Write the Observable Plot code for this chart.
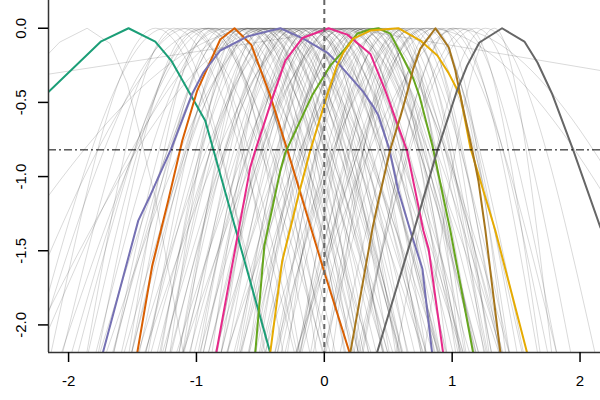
<!DOCTYPE html>
<html><head><meta charset="utf-8">
<script src="https://cdn.jsdelivr.net/npm/d3@7"></script>
<script src="https://cdn.jsdelivr.net/npm/@observablehq/plot@0.6"></script>
<style>body{margin:0;background:#fff}</style>
</head><body><div id="chart"></div>
<script>
const xDomain = [-2.157, 2.16];
const yDomain = [-2.186, 0.187];
const xTicks = [-2, -1, 0, 1, 2];
const xTickLabels = ["-2", "-1", "0", "1", "2"];
const yTicks = [0, -0.5, -1, -1.5, -2];
const yTickLabels = ["0.0", "-0.5", "-1.0", "-1.5", "-2.0"];
const refX = 0;
const cutoffY = -0.82;
const greyPeakY = 0;
const greyFootY = -2.2;

// grey profiles: [x where left side reaches foot, x of peak, x where right side reaches foot]
const greyProfiles = [
  [-2.14,-1.32,-0.42],[-2.29,-1.24,-0.46],[-1.86,-1.18,-0.23],[-2.05,-1.12,0.00],[-2.26,-1.06,-0.21],
  [-1.77,-1.02,-0.32],[-1.85,-0.97,0.05],[-1.93,-0.93,-0.01],[-1.53,-0.91,-0.11],[-1.98,-0.88,0.37],
  [-1.65,-0.85,-0.19],[-1.79,-0.82,0.23],[-1.51,-0.79,0.09],[-2.06,-0.76,0.24],[-1.59,-0.73,0.01],
  [-1.65,-0.71,0.27],[-1.38,-0.68,0.47],[-1.21,-0.66,-0.06],[-1.45,-0.63,0.27],[-1.66,-0.61,0.17],
  [-1.28,-0.60,0.35],[-1.51,-0.58,0.54],[-1.76,-0.56,0.29],[-1.29,-0.54,0.16],[-1.40,-0.52,0.50],
  [-1.51,-0.51,0.41],[-1.11,-0.49,0.31],[-1.57,-0.47,0.78],[-1.25,-0.45,0.21],[-1.40,-0.43,0.62],
  [-1.14,-0.42,0.46],[-1.71,-0.41,0.59],[-1.25,-0.39,0.35],[-1.31,-0.37,0.61],[-1.05,-0.35,0.80],
  [-0.88,-0.33,0.27],[-1.14,-0.32,0.58],[-1.36,-0.31,0.47],[-0.97,-0.29,0.66],[-1.20,-0.27,0.85],
  [-1.46,-0.26,0.59],[-0.99,-0.24,0.46],[-1.10,-0.22,0.80],[-1.21,-0.21,0.71],[-0.81,-0.19,0.61],
  [-1.27,-0.17,1.08],[-0.95,-0.15,0.51],[-1.11,-0.14,0.91],[-0.84,-0.12,0.76],[-1.41,-0.11,0.89],
  [-0.95,-0.09,0.65],[-1.02,-0.08,0.90],[-0.76,-0.06,1.09],[-0.59,-0.04,0.56],[-0.85,-0.03,0.87],
  [-1.06,-0.01,0.77],[-0.67,0.01,0.96],[-0.91,0.02,1.14],[-1.16,0.04,0.89],[-0.69,0.06,0.76],
  [-0.81,0.07,1.09],[-0.91,0.09,1.01],[-0.51,0.11,0.91],[-0.98,0.12,1.37],[-0.66,0.14,0.80],
  [-0.81,0.16,1.21],[-0.55,0.17,1.05],[-1.11,0.19,1.19],[-0.65,0.21,0.95],[-0.71,0.23,1.21],
  [-0.46,0.24,1.39],[-0.29,0.26,0.86],[-0.54,0.28,1.18],[-0.76,0.29,1.07],[-0.37,0.31,1.26],
  [-0.60,0.33,1.45],[-0.86,0.34,1.19],[-0.39,0.36,1.06],[-0.50,0.38,1.40],[-0.59,0.41,1.10],
  [-0.19,0.43,1.03],[-0.66,0.44,1.38],[-0.34,0.46,0.96],[-0.49,0.48,1.27],[-0.21,0.51,1.17],
  [-0.77,0.53,1.28],[-0.31,0.55,1.11],[-0.37,0.57,1.31],[-0.11,0.59,1.45],[0.06,0.61,1.06],
  [-0.19,0.63,1.31],[-0.39,0.66,1.25],[0.00,0.68,1.39],[-0.22,0.71,1.55],[-0.47,0.73,1.37],
  [0.01,0.76,1.29],[-0.09,0.79,1.56],[-0.18,0.82,1.51],[0.23,0.85,1.45],[-0.22,0.88,1.82],
  [0.12,0.92,1.42],[-0.01,0.96,1.75],[0.29,1.01,1.67],[-0.23,1.07,1.82],[0.27,1.13,1.69],
  [0.25,1.19,1.93],[0.56,1.26,2.12],[0.78,1.33,1.78],
  [-3.00,-0.50,0.60],[-2.48,-0.90,0.20],[-2.33,-0.40,0.90],[-2.24,-0.60,0.50],
  [0.30,1.00,3.00],[-0.20,0.80,2.90]
];

// grey profiles with irregular shapes, as vertex lists [x, y]
const greyPolylines = [
  [[-2.16,-0.31],[0.20,0.00],[2.16,-0.285]],
  [[-2.30,-0.30],[-2.07,-0.094],[-1.855,0.00],[-1.675,-0.103],[-1.54,-0.374],[-1.32,-1.15],[-1.10,-2.20]]
];

const colours = ["#1B9E77", "#D95F02", "#7570B3", "#E7298A", "#66A61E", "#E6AB02", "#A6761D", "#666666"];

const profileTeal = [[-2.160,-0.432],[-1.745,-0.088],[-1.531,0],[-1.322,-0.090],[-1.197,-0.218],[-0.931,-0.623],[-0.423,-2.188]];
const profileOrange = [[-1.463,-2.188],[-1.346,-1.601],[-1.221,-1.163],[-1.111,-0.758],[-0.994,-0.420],[-0.814,-0.076],[-0.702,0],[-0.571,-0.112],[-0.423,-0.454],[-0.290,-0.818],[-0.008,-1.621],[0.198,-2.188]];
const profilePurple = [[-1.732,-2.188],[-1.455,-1.297],[-1.362,-1.129],[-1.197,-0.812],[-1.033,-0.441],[-0.947,-0.299],[-0.814,-0.150],[-0.603,-0.056],[-0.344,0],[-0.164,-0.070],[0.023,-0.164],[0.125,-0.252],[0.297,-0.420],[0.383,-0.528],[0.423,-0.589],[0.509,-0.818],[0.579,-1.095],[0.673,-1.365],[0.767,-1.621],[0.843,-2.188]];
const profilePink = [[-0.845,-2.188],[-0.671,-1.365],[-0.579,-0.938],[-0.540,-0.825],[-0.399,-0.454],[-0.305,-0.218],[-0.172,-0.066],[0.034,0],[0.180,-0.043],[0.360,-0.173],[0.477,-0.420],[0.647,-0.825],[0.660,-0.881],[0.775,-1.365],[0.816,-1.489],[0.929,-2.188]];
const profileGreen = [[-0.540,-2.188],[-0.469,-1.466],[-0.344,-0.960],[-0.305,-0.839],[-0.096,-0.454],[0.047,-0.252],[0.164,-0.137],[0.258,-0.036],[0.360,-0.009],[0.423,0],[0.516,-0.036],[0.618,-0.204],[0.696,-0.339],[0.743,-0.454],[0.845,-0.791],[0.986,-1.365],[1.164,-2.188]];
const profileYellow = [[-0.423,-2.188],[-0.329,-1.567],[-0.266,-1.352],[-0.203,-1.129],[-0.110,-0.825],[0.021,-0.454],[0.099,-0.252],[0.149,-0.164],[0.227,-0.070],[0.360,-0.016],[0.579,0],[0.751,-0.083],[0.884,-0.184],[0.970,-0.299],[1.064,-0.454],[1.142,-0.805],[1.244,-1.095],[1.338,-1.365],[1.586,-2.188]];
const profileBrown = [[0.203,-2.188],[0.381,-1.331],[0.423,-1.163],[0.516,-0.818],[0.595,-0.596],[0.642,-0.454],[0.696,-0.272],[0.751,-0.137],[0.869,0],[0.973,-0.128],[1.025,-0.285],[1.064,-0.454],[1.158,-0.825],[1.205,-1.028],[1.260,-1.365],[1.377,-2.188]];
const profileDarkGrey = [[0.412,-2.188],[0.712,-1.331],[0.884,-0.825],[1.038,-0.420],[1.117,-0.252],[1.213,-0.096],[1.390,0],[1.565,-0.090],[1.667,-0.231],[1.784,-0.447],[1.948,-0.825],[2.160,-1.345]];

const profiles = [profileTeal, profileOrange, profilePurple, profilePink, profileGreen, profileYellow, profileBrown, profileDarkGrey];

const greyData = greyProfiles.flatMap(([l, p, r], i) => [
  {id: i, x: l, y: greyFootY}, {id: i, x: p, y: greyPeakY}, {id: i, x: r, y: greyFootY}
]);
const greyPolyData = greyPolylines.flatMap((pts, i) => pts.map(([x, y]) => ({id: i, x, y})));

const chart = Plot.plot({
  width: 600,
  height: 400,
  marginLeft: 48,
  marginRight: 0,
  marginTop: 0,
  marginBottom: 48,
  x: {domain: xDomain, label: null},
  y: {domain: yDomain, label: null},
  style: {fontFamily: "'Liberation Sans', Arial, Helvetica, sans-serif", fontSize: "15px", background: "white", color: "black"},
  marks: [
    Plot.line(greyData, {x: "x", y: "y", z: "id", curve: "monotone-x", stroke: "black", strokeOpacity: 0.15, strokeWidth: 1, clip: true}),
    Plot.line(greyPolyData, {x: "x", y: "y", z: "id", stroke: "black", strokeOpacity: 0.15, strokeWidth: 1, clip: true}),
    ...profiles.map((pts, i) => Plot.line(pts, {x: d => d[0], y: d => d[1], stroke: colours[i], strokeWidth: 2, clip: true})),
    Plot.ruleX([refX], {stroke: "#666", strokeWidth: 2, strokeDasharray: "5,4"}),
    Plot.ruleY([cutoffY], {stroke: "black", strokeWidth: 1, strokeDasharray: "8,3,2,3"}),
    Plot.ruleX([xDomain[0]], {stroke: "#333", strokeWidth: 1.5}),
    Plot.ruleY([yDomain[0]], {stroke: "#333", strokeWidth: 1.5}),
    Plot.axisX(xTicks, {label: null, tickSize: 10, tickPadding: 13, fontSize: 15, strokeWidth: 1.5, tickFormat: d => xTickLabels[xTicks.indexOf(d)]}),
    Plot.axisY(yTicks, {label: null, tickSize: 10, strokeWidth: 1.5, tickFormat: () => ""}),
    Plot.text(yTicks, {y: d => d, text: (d, i) => yTickLabels[i], frameAnchor: "left", dx: -23, rotate: -90, textAnchor: "middle", lineAnchor: "bottom", fontSize: 15})
  ]
});
document.getElementById("chart").appendChild(chart);
</script>
</body></html>
